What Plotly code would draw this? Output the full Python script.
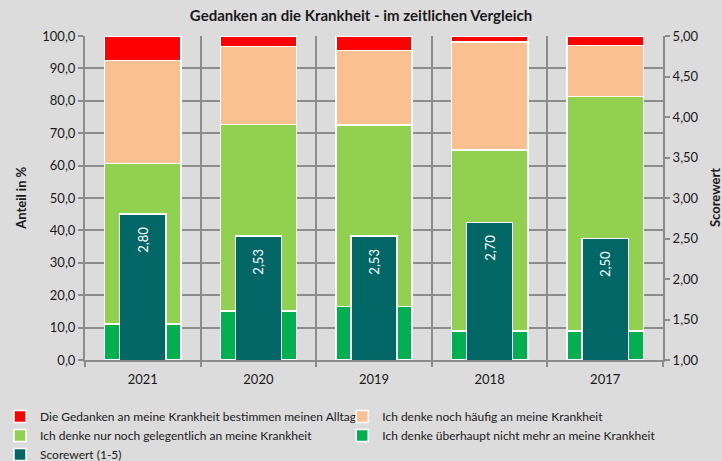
import plotly.graph_objects as go

years = ["2021", "2020", "2019", "2018", "2017"]
names = [
    "Die Gedanken an meine Krankheit bestimmen meinen Alltag",
    "Ich denke noch häufig an meine Krankheit",
    "Ich denke nur noch gelegentlich an meine Krankheit",
    "Ich denke überhaupt nicht mehr an meine Krankheit",
]
alltag = [7.6, 3.3, 4.5, 1.8, 3.0]
haeufig = [31.7, 24.0, 23.0, 33.4, 15.7]
gelegentlich = [49.6, 57.6, 56.0, 55.8, 72.3]
ueberhaupt = [11.1, 15.1, 16.5, 9.0, 9.0]
score = [2.80, 2.53, 2.53, 2.70, 2.50]
score_name = "Scorewert (1-5)"
left_title = "Anteil in %"
right_title = "Scorewert"

colors = ["#FF0000", "#FAC090", "#92D050", "#00B050"]
score_color = "#006666"
FONT = "Lato"
grid = "#8C8C8C"
bg = "#DCDCDC"

fig = go.Figure()
series = [ueberhaupt, gelegentlich, haeufig, alltag]
snames = names[::-1]
scolors = colors[::-1]
# legend placement: two columns as in the reference
legends = ["legend2", "legend", "legend2", "legend"]
ranks = [2, 2, 1, 1]
for vals, nm, col, lg, rk in zip(series, snames, scolors, legends, ranks):
    fig.add_trace(go.Bar(
        x=years, y=vals, name=nm, width=0.66,
        marker=dict(color=col, line=dict(color="white", width=1.5)),
        legend=lg, legendrank=rk, hoverinfo="skip",
    ))

fig.add_trace(go.Bar(
    x=years, y=score, name=score_name, yaxis="y2", width=0.40,
    marker=dict(color=score_color, line=dict(color="white", width=1.5)),
    texttemplate="%{y:.2f}\u00a0\u00a0\u00a0", textposition="inside", insidetextanchor="end",
    textangle=-90, textfont=dict(color="white", size=13, family=FONT),
    legend="legend", legendrank=3, hoverinfo="skip",
))

legend_common = dict(
    orientation="v", xref="container", yref="container",
    xanchor="left", y=0.128, yanchor="top",
    traceorder="normal", font=dict(size=12, family=FONT), itemwidth=30,
    bgcolor="rgba(0,0,0,0)", tracegroupgap=0,
)

fig.update_layout(
    width=722, height=461,
    barmode="stack",
    separators=",.",
    paper_bgcolor=bg, plot_bgcolor=bg,
    font=dict(family=FONT, size=13, color="#1A1A1A"),
    margin=dict(l=85, r=59, t=36, b=101, autoexpand=False),
    title=dict(text="<b>Gedanken an die Krankheit - im zeitlichen Vergleich</b>",
               x=0.5, xanchor="center", y=0.965, yanchor="middle",
               font=dict(size=15, family=FONT, color="#1A1A1A")),
    xaxis=dict(
        type="category", tickson="boundaries", showgrid=True, gridcolor=grid, gridwidth=2,
        ticks="outside", ticklen=5, tickcolor=grid, tickwidth=2,
        showline=True, linecolor=grid, linewidth=2, ticklabelstandoff=6,
        tickfont=dict(size=13), automargin=False,
    ),
    yaxis=dict(
        range=[0, 100], dtick=10, tickformat=".1f", showgrid=True, gridcolor=grid, gridwidth=2,
        ticks="outside", ticklen=5, tickcolor=grid, tickwidth=2,
        showline=True, linecolor=grid, linewidth=2, zeroline=False, side="left",
        tickfont=dict(size=13), automargin=False,
    ),
    yaxis2=dict(
        range=[1, 5], dtick=0.5, tickformat=".2f", overlaying="y", side="right",
        showgrid=False, zeroline=False,
        ticks="outside", ticklen=5, tickcolor=grid, tickwidth=2,
        showline=True, linecolor=grid, linewidth=2,
        tickfont=dict(size=13), automargin=False,
    ),
    legend=dict(x=0.0, **legend_common),
    legend2=dict(x=0.474, **legend_common),
    showlegend=True,
    annotations=[
        dict(text="<b>" + left_title + "</b>", xref="paper", yref="paper",
             x=-0.111, y=0.5, xanchor="center", yanchor="middle",
             textangle=-90, showarrow=False, font=dict(size=13, family=FONT)),
        dict(text="<b>" + right_title + "</b>", xref="paper", yref="paper",
             x=1.09, y=0.5, xanchor="center", yanchor="middle",
             textangle=-90, showarrow=False, font=dict(size=13, family=FONT)),
    ],
)

fig.write_html("out.html", config={"displayModeBar": False},
               post_script="document.body.style.margin='0';document.body.style.padding='0';")
